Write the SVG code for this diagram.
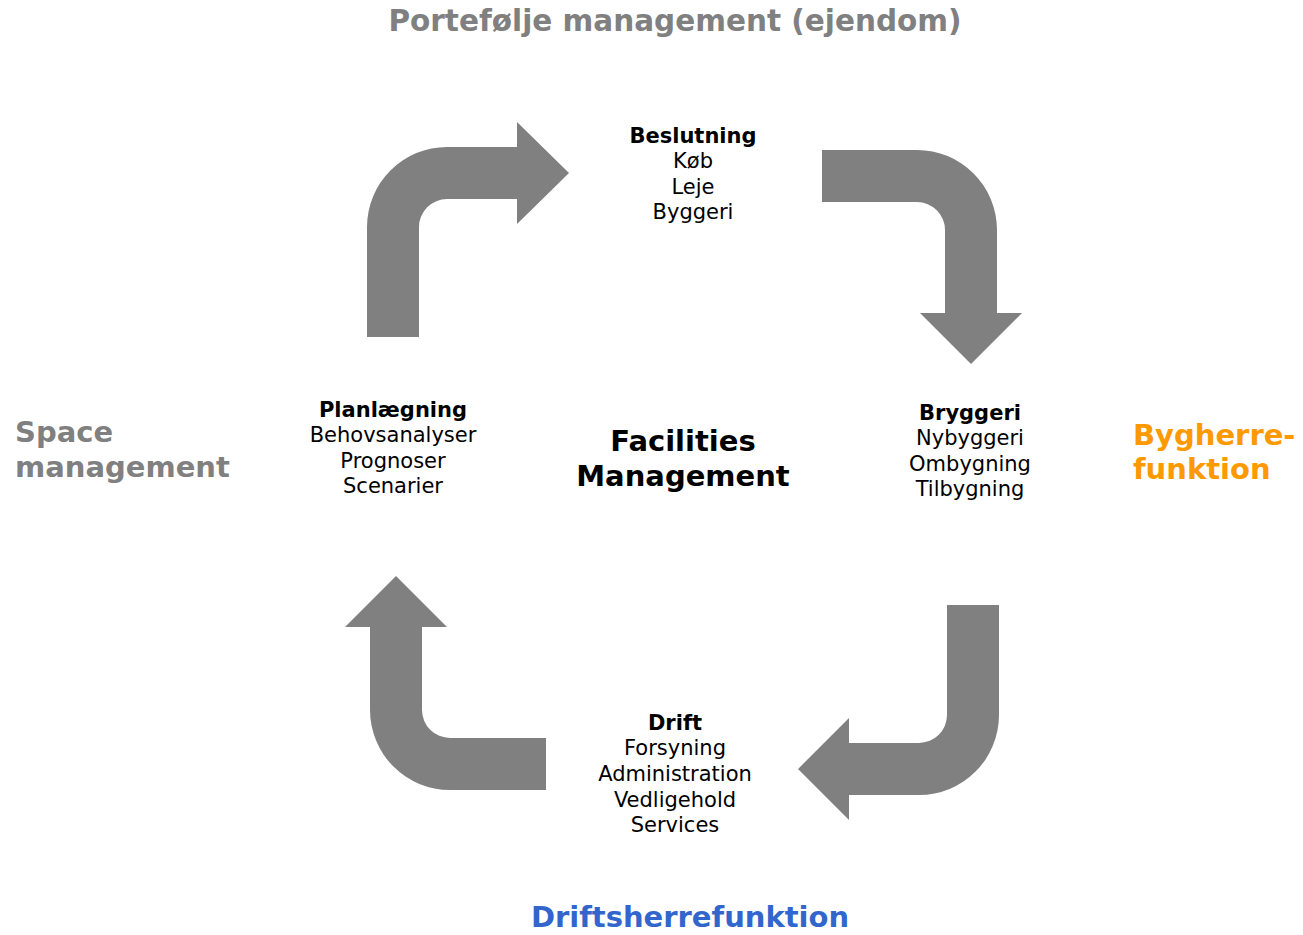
<svg xmlns="http://www.w3.org/2000/svg" width="1303" height="935" viewBox="0 0 1303 935">
<style>
text{font-family:"DejaVu Sans","Verdana",sans-serif;}
.t{font-size:21px;fill:#000;text-anchor:middle;}
.b{font-weight:bold;}
.big{font-size:29px;font-weight:bold;}
.gray{fill:#808080;}
.arrow{fill:#808080;stroke:none;}
</style>
<rect width="1303" height="935" fill="#fff"/>
<g id="connectors">
<path class="arrow" d="M367,337 V227 A80,80 0 0 1 447,147 H517 V122 L569,173 L517,224 V199 H447 A28,28 0 0 0 419,227 V337 Z"/>
<path class="arrow" d="M822,150 H917 A80,80 0 0 1 997,230 V313 H1022 L971,364 L920,313 H945 V230 A28,28 0 0 0 917,202 H822 Z"/>
<path class="arrow" d="M999,605 V715 A80,80 0 0 1 919,795 H849 V820 L798,769 L849,718 V743 H919 A28,28 0 0 0 947,715 V605 Z"/>
<path class="arrow" d="M546,790 H450 A80,80 0 0 1 370,710 V627 H345 L396,576 L447,627 H422 V710 A28,28 0 0 0 450,738 H546 Z"/>
</g>
<g id="title-portefolje"><text class="big gray" x="675" y="31" text-anchor="middle" style="font-size:29.5px">Portefølje management (ejendom)</text></g>
<g id="title-space"><text class="big gray" x="15" y="442">Space</text><text class="big gray" x="15" y="477">management</text></g>
<g id="title-bygherre"><text class="big" fill="#FF9900" x="1133" y="445">Bygherre-</text><text class="big" fill="#FF9900" x="1133" y="479">funktion</text></g>
<g id="title-drift"><text class="big" fill="#3366CC" x="690" y="927" text-anchor="middle">Driftsherrefunktion</text></g>
<g id="center"><text class="big" fill="#000" x="683" y="451" text-anchor="middle">Facilities</text><text class="big" fill="#000" x="683" y="486" text-anchor="middle">Management</text></g>
<g id="node-beslutning">
<text class="t b" x="693" y="143">Beslutning</text>
<text class="t" x="693" y="168">Køb</text>
<text class="t" x="693" y="194">Leje</text>
<text class="t" x="693" y="219">Byggeri</text>
</g>
<g id="node-bryggeri">
<text class="t b" x="970" y="420">Bryggeri</text>
<text class="t" x="970" y="445">Nybyggeri</text>
<text class="t" x="970" y="471">Ombygning</text>
<text class="t" x="970" y="496">Tilbygning</text>
</g>
<g id="node-drift">
<text class="t b" x="675" y="730">Drift</text>
<text class="t" x="675" y="755">Forsyning</text>
<text class="t" x="675" y="781">Administration</text>
<text class="t" x="675" y="807">Vedligehold</text>
<text class="t" x="675" y="832">Services</text>
</g>
<g id="node-planlaegning">
<text class="t b" x="393" y="417">Planlægning</text>
<text class="t" x="393" y="442">Behovsanalyser</text>
<text class="t" x="393" y="468">Prognoser</text>
<text class="t" x="393" y="493">Scenarier</text>
</g>
</svg>
